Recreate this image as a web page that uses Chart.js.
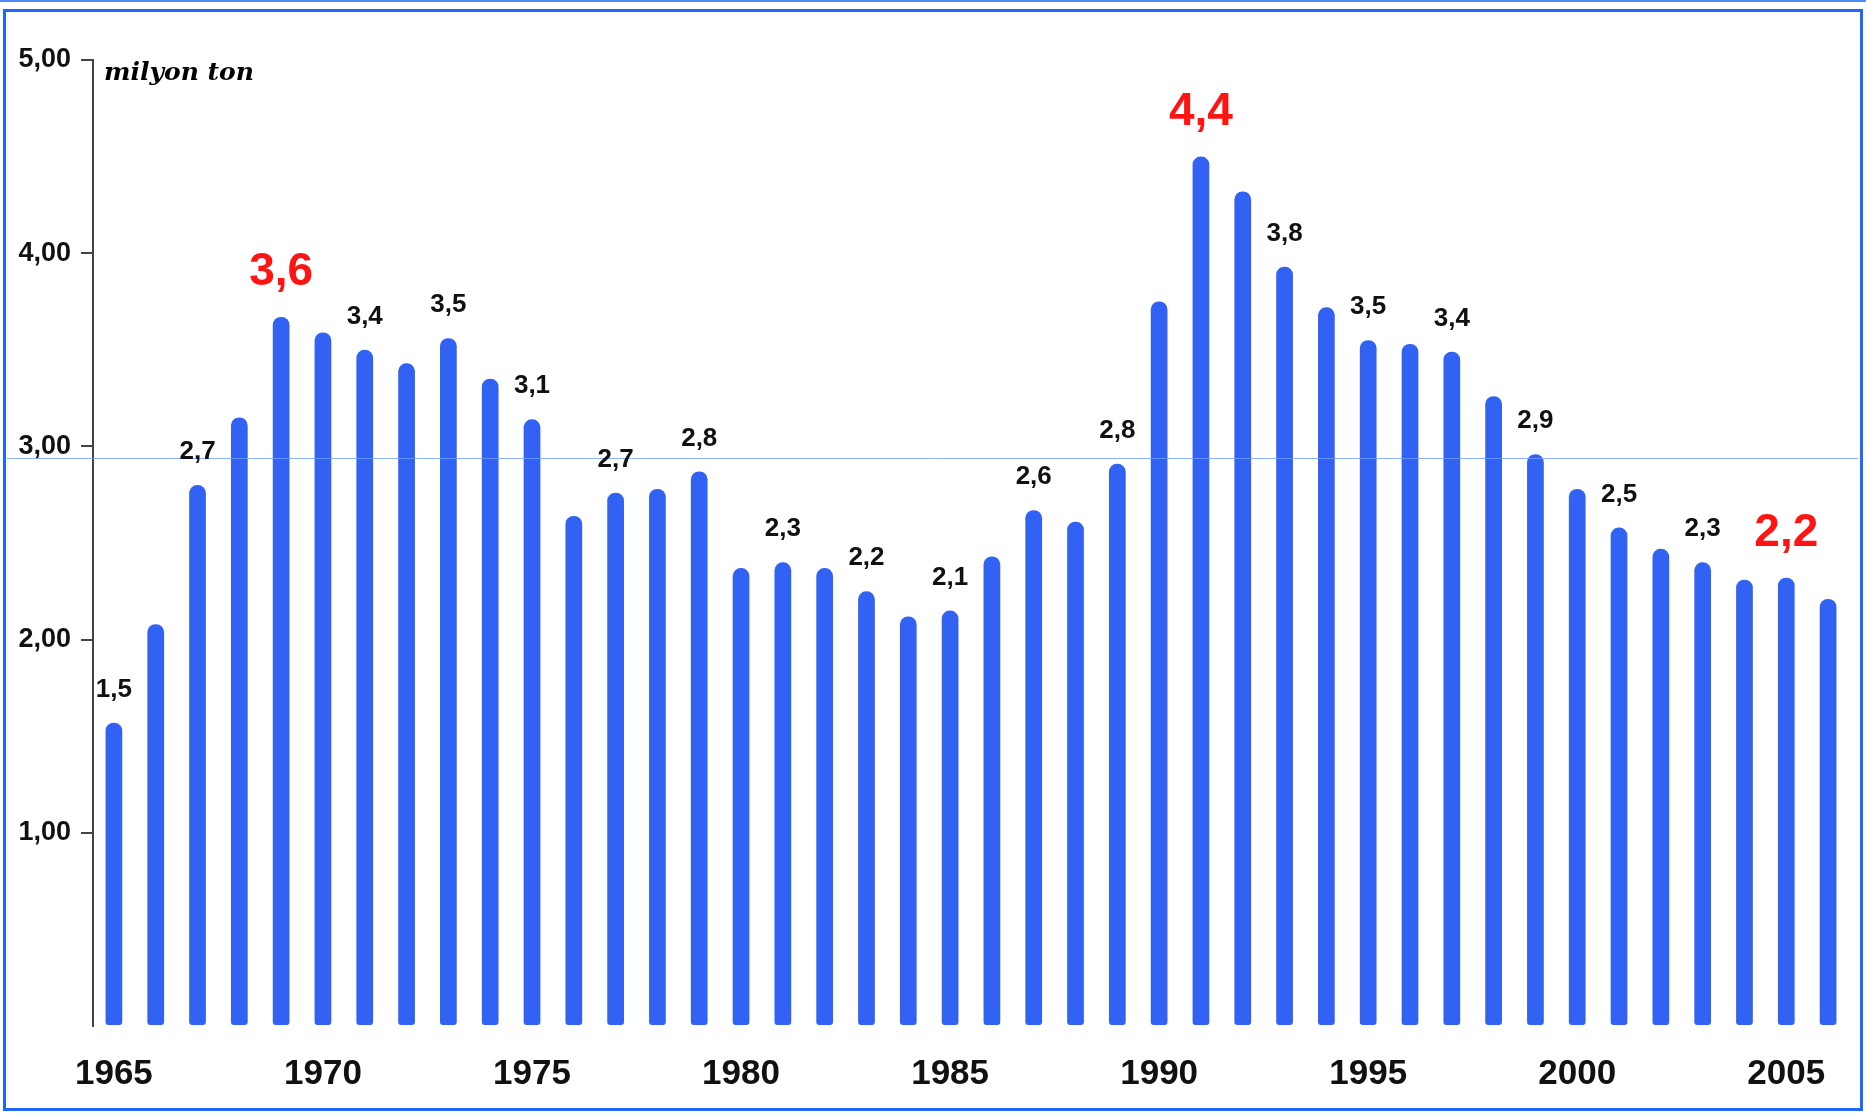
<!DOCTYPE html>
<html>
<head>
<meta charset="utf-8">
<title>milyon ton</title>
<script src="https://cdn.jsdelivr.net/npm/chart.js@4.4.0/dist/chart.umd.min.js"></script>
<style>
    html, body { margin: 0; padding: 0; background: #ffffff; }
    .wrap { position: relative; width: 1866px; height: 1113px; overflow: hidden; }
    .top-line { position: absolute; left: 0; top: 0; width: 1866px; height: 2px; background: #4f8dff; }
    .frame {
        position: absolute; left: 3px; top: 9px; width: 1860px; height: 1102px;
        box-sizing: border-box; border: 3px solid #1e68ff; pointer-events: none;
    }
    .unit {
        position: absolute; left: 104px; top: 57px;
        font: italic bold 25px 'DejaVu Serif', serif; color: #000;
    }
    #chart { position: absolute; left: 0; top: 0; }
</style>
</head>
<body>
<div class="wrap">
    <div class="top-line"></div>
    <canvas id="chart" width="1866" height="1113"></canvas>
    <div class="frame"></div>
    <div class="unit">milyon ton</div>
</div>
<script>
// Years on the x axis
const years = ['1965', '1966', '1967', '1968', '1969', '1970', '1971', '1972', '1973', '1974',
    '1975', '1976', '1977', '1978', '1979', '1980', '1981', '1982', '1983', '1984',
    '1985', '1986', '1987', '1988', '1989', '1990', '1991', '1992', '1993', '1994',
    '1995', '1996', '1997', '1998', '1999', '2000', '2001', '2002', '2003', '2004',
    '2005', '2006'];

// Bar heights (milyon ton)
const values = [1.57, 2.08, 2.80, 3.15, 3.67, 3.59, 3.50, 3.43, 3.56, 3.35,
    3.14, 2.64, 2.76, 2.78, 2.87, 2.37, 2.40, 2.37, 2.25, 2.12,
    2.15, 2.43, 2.67, 2.61, 2.91, 3.75, 4.50, 4.32, 3.93, 3.72,
    3.55, 3.53, 3.49, 3.26, 2.96, 2.78, 2.58, 2.47, 2.40, 2.31,
    2.32, 2.21];

// Printed value labels above the bars (null = no label)
const barLabels = ['1,5', null, '2,7', null, '3,6', null, '3,4', null, '3,5', null,
    '3,1', null, '2,7', null, '2,8', null, '2,3', null, '2,2', null,
    '2,1', null, '2,6', null, '2,8', null, '4,4', null, '3,8', null,
    '3,5', null, '3,4', null, '2,9', null, '2,5', null, '2,3', null,
    '2,2', null];

// Years whose label is printed big and red
const highlightYears = ['1969', '1991', '2005'];

// Y axis ticks
const yTicks = [1, 2, 3, 4, 5];

// Thin light blue line across the chart
const refLineValue = 2.94;

const FONT = "'Liberation Sans', Arial, sans-serif";

// Draw the value labels on top of bars
const valueLabelPlugin = {
    id: 'valueLabels',
    afterDatasetsDraw(chart) {
        const ctx = chart.ctx;
        const meta = chart.getDatasetMeta(0);
        meta.data.forEach((bar, i) => {
            const text = barLabels[i];
            if (!text) return;
            const big = highlightYears.includes(years[i]);
            ctx.save();
            ctx.font = big ? `bold 46px ${FONT}` : `bold 26px ${FONT}`;
            ctx.fillStyle = big ? '#ff1414' : '#111111';
            ctx.textAlign = 'center';
            ctx.textBaseline = 'alphabetic';
            ctx.fillText(text, bar.x, bar.y - (big ? 32 : 26));
            ctx.restore();
        });
    }
};

// Light blue horizontal line
const refLinePlugin = {
    id: 'refLine',
    afterDatasetsDraw(chart) {
        const ctx = chart.ctx;
        const y = Math.round(chart.scales.y.getPixelForValue(refLineValue)) + 0.5;
        ctx.save();
        ctx.strokeStyle = 'rgba(110, 160, 255, 0.8)';
        ctx.lineWidth = 1;
        ctx.beginPath();
        ctx.moveTo(7, y);
        ctx.lineTo(1858, y);
        ctx.stroke();
        ctx.restore();
    }
};

const ctx = document.getElementById('chart');

new Chart(ctx, {
    type: 'bar',
    data: {
        labels: years,
        datasets: [{
            data: values,
            backgroundColor: '#3162f4',
            borderWidth: 0,
            borderRadius: { topLeft: 8, topRight: 8, bottomLeft: 3, bottomRight: 3 },
            borderSkipped: false,
            barPercentage: 0.4,
            categoryPercentage: 1.0
        }]
    },
    options: {
        responsive: false,
        animation: false,
        devicePixelRatio: 1,
        layout: {
            padding: { top: 60, left: 0, right: 17, bottom: 0 }
        },
        plugins: {
            legend: { display: false },
            tooltip: { enabled: false }
        },
        scales: {
            x: {
                offset: true,
                grid: { display: false, drawTicks: false },
                border: { display: false },
                ticks: {
                    autoSkip: false,
                    maxRotation: 0,
                    padding: 27,
                    color: '#111111',
                    font: { family: FONT, size: 35, weight: 'bold' },
                    callback: function(value, index) {
                        const y = years[index];
                        return Number(y) % 5 === 0 ? y : '';
                    }
                },
                afterFit: function(scale) {
                    scale.height = 87;
                    scale.paddingLeft = 0;
                    scale.paddingRight = 0;
                }
            },
            y: {
                min: 0,
                max: 5,
                afterBuildTicks: function(scale) {
                    scale.ticks = [0].concat(yTicks).map(v => ({ value: v }));
                },
                grid: {
                    drawOnChartArea: false,
                    drawTicks: true,
                    tickLength: 12,
                    lineWidth: 2,
                    color: function(c) {
                        return c.tick && c.tick.value === 0 ? 'rgba(0,0,0,0)' : '#444444';
                    }
                },
                border: { display: true, color: '#444444', width: 2 },
                ticks: {
                    padding: 10,
                    color: '#111111',
                    font: { family: FONT, size: 27, weight: 'bold' },
                    callback: function(value) {
                        if (value === 0) return '';
                        return value.toFixed(2).replace('.', ',');
                    }
                },
                afterFit: function(scale) {
                    scale.width = 93;
                    scale.paddingTop = 0;
                    scale.paddingBottom = 0;
                }
            }
        }
    },
    plugins: [refLinePlugin, valueLabelPlugin]
});
</script>
</body>
</html>
